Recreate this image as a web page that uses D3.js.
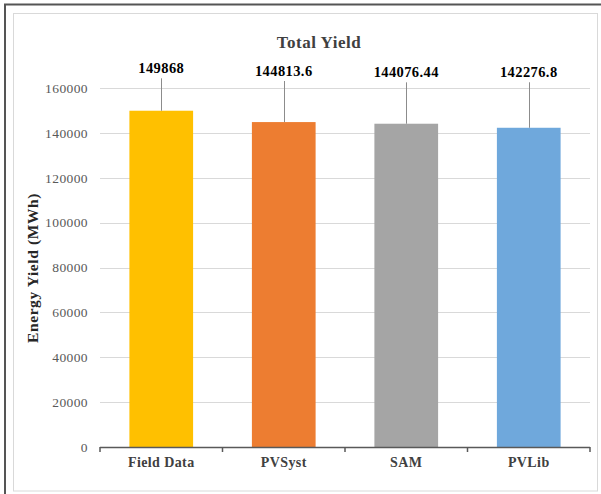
<!DOCTYPE html>
<html><head><meta charset="utf-8">
<script src="https://cdn.jsdelivr.net/npm/d3@7"></script>
<style>body{margin:0;background:#fff}svg{display:block}</style>
</head><body>
<svg id="c" width="601" height="494"></svg>
<script>
const categories = ["Field Data", "PVSyst", "SAM", "PVLib"];
const values = [149868, 144813.6, 144076.44, 142276.8];
const valueLabels = ["149868", "144813.6", "144076.44", "142276.8"];
const errors = [14450, 18300, 18450, 20280];
const colors = ["#FFC000", "#ED7D31", "#A5A5A5", "#6FA8DC"];
const yTicks = [0, 20000, 40000, 60000, 80000, 100000, 120000, 140000, 160000];

const svg = d3.select("#c");
const font = "'Liberation Serif','Times New Roman',serif";

// frames
svg.append("rect").attr("x",5).attr("y",4.5).attr("width",620).attr("height",520)
  .attr("fill","none").attr("stroke","#555").attr("stroke-width",2);
svg.append("rect").attr("x",13.5).attr("y",13.5).attr("width",584).attr("height",477.5)
  .attr("fill","#fff").attr("stroke","#d9d9d9").attr("stroke-width",1);

const x = d3.scaleBand().domain(categories).range([100,590]).paddingInner(0.48).paddingOuter(0.24);
const y = d3.scaleLinear().domain([0,160000]).range([447,88]);

// gridlines
svg.append("g").selectAll("line").data(yTicks.filter(d=>d>0)).join("line")
  .attr("x1",100).attr("x2",590).attr("y1",d=>Math.round(y(d))+0.5).attr("y2",d=>Math.round(y(d))+0.5)
  .attr("stroke","#d9d9d9").attr("stroke-width",1);

// y tick labels
const yAxis = d3.axisLeft(y).tickValues(yTicks).tickSize(0).tickPadding(12).tickFormat(d3.format("d"));
const ya = svg.append("g").attr("transform","translate(100,0)").call(yAxis);
ya.select(".domain").remove();
ya.selectAll("text").attr("font-family",font).attr("font-size",13.5).attr("letter-spacing",0.4).attr("fill","#595959");

// bars
svg.append("g").selectAll("rect").data(values).join("rect")
  .attr("x",(d,i)=>x(categories[i])).attr("width",x.bandwidth())
  .attr("y",d=>y(d)).attr("height",d=>y(0)-y(d))
  .attr("fill",(d,i)=>colors[i]);

// error lines
svg.append("g").selectAll("line").data(values).join("line")
  .attr("x1",(d,i)=>Math.round(x(categories[i])+x.bandwidth()/2)+0.5)
  .attr("x2",(d,i)=>Math.round(x(categories[i])+x.bandwidth()/2)+0.5)
  .attr("y1",d=>y(d)).attr("y2",(d,i)=>y(d+errors[i]))
  .attr("stroke","#8c8c8c").attr("stroke-width",1);

// value labels
svg.append("g").selectAll("text").data(values).join("text")
  .attr("x",(d,i)=>x(categories[i])+x.bandwidth()/2)
  .attr("y",(d,i)=>y(d+errors[i])-5)
  .attr("text-anchor","middle").attr("font-family",font).attr("font-weight","bold")
  .attr("font-size",14.5).attr("letter-spacing",0.4).attr("fill","#000").text((d,i)=>valueLabels[i]);

// x axis
const xAxis = d3.axisBottom(x).tickSize(0).tickPadding(10);
const xa = svg.append("g").attr("transform","translate(0,447)").call(xAxis);
xa.select(".domain").attr("stroke","#595959").attr("stroke-width",1.5).attr("d","M100,0.5H590");
xa.selectAll("text").attr("font-family",font).attr("font-weight","bold").attr("font-size",14).attr("letter-spacing",0.4).attr("fill","#404040");
const bounds = [100].concat(categories.map(c=>x(c)+x.bandwidth()+x.step()*x.paddingInner()/2));
bounds[bounds.length-1] = 590;
xa.append("g").selectAll("line").data(bounds).join("line")
  .attr("x1",d=>d).attr("x2",d=>d).attr("y1",0).attr("y2",5)
  .attr("stroke","#595959").attr("stroke-width",1.5);

// title
svg.append("text").attr("x",319).attr("y",48).attr("text-anchor","middle")
  .attr("font-family",font).attr("font-weight","bold").attr("font-size",17).attr("letter-spacing",0.5).attr("fill","#404040")
  .text("Total Yield");

// y axis title
svg.append("text").attr("transform","translate(38,268) rotate(-90)").attr("text-anchor","middle")
  .attr("font-family",font).attr("font-weight","bold").attr("font-size",15.5).attr("letter-spacing",0.6).attr("fill","#262626")
  .text("Energy Yield (MWh)");
</script>
</body></html>
